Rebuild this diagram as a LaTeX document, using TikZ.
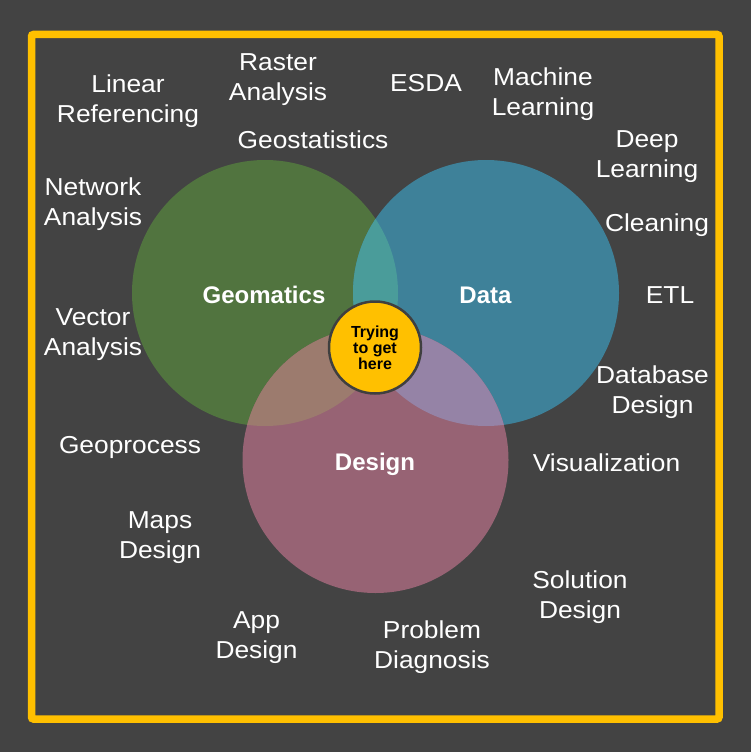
\documentclass[tikz,border=0pt]{standalone}
\usepackage{fontspec}
\setmainfont{Liberation Sans}
\newfontfamily\topicfont{Liberation Sans}[FakeStretch=1.075]
\definecolor{bg}{HTML}{434343}
\definecolor{framecol}{HTML}{FFC000}
\definecolor{geo}{HTML}{51743F}
\definecolor{dat}{HTML}{3E8199}
\definecolor{des}{HTML}{976374}
\definecolor{geodat}{HTML}{4A9C9A}
\definecolor{geodes}{HTML}{9C7B6E}
\definecolor{datdes}{HTML}{9583A6}
\definecolor{hubfill}{HTML}{FFC000}
\definecolor{hubedge}{HTML}{3F3F3F}
\begin{document}
\begin{tikzpicture}[x=1pt,y=-1pt,
  topic/.style={text=white, align=center, anchor=base, inner sep=0pt,
    font=\topicfont\fontsize{24.5}{30}\selectfont},
  setname/.style={text=white, anchor=base, inner sep=0pt,
    font=\fontsize{24}{28}\bfseries\selectfont},
  hubnode/.style={circle, fill=hubfill, draw=hubedge, line width=2.5pt,
    minimum size=92pt, inner sep=0pt, align=center,
    font=\fontsize{16}{16.2}\bfseries\selectfont}]
\useasboundingbox (0,0) rectangle (751,752);
\fill[bg] (0,0) rectangle (751,752);
\draw[framecol, line width=7.5pt, rounded corners=2pt] (31.5,34.5) rectangle (719,719);

% set centres
\coordinate (cg) at (265,293);
\coordinate (cd) at (486,293);
\coordinate (cs) at (375.5,460);

% the three sets
\fill[geo] (cg) circle[radius=133pt];
\fill[dat] (cd) circle[radius=133pt];
\fill[des] (cs) circle[radius=133pt];

% pairwise overlaps
\begin{scope}
  \clip (cg) circle[radius=133pt];
  \fill[geodat] (cd) circle[radius=133pt];
  \fill[geodes] (cs) circle[radius=133pt];
\end{scope}
\begin{scope}
  \clip (cd) circle[radius=133pt];
  \fill[datdes] (cs) circle[radius=133pt];
\end{scope}

% set names
\node[setname] (geomatics) at (264,303) {Geomatics};
\node[setname] (data) at (485.5,303) {Data};
\node[setname] (design) at (375,470) {Design};

% centre
\node[hubnode] (hub) at (375,347.5) {Trying\\to get\\here};

% surrounding topics (base = baseline of the last line)
\node[topic] (linref) at (128,122) {Linear\\Referencing};
\node[topic] (raster) at (278,100) {Raster\\Analysis};
\node[topic] (esda) at (426,91) {ESDA};
\node[topic] (ml) at (543,115) {Machine\\Learning};
\node[topic] (geostat) at (313,148) {Geostatistics};
\node[topic] (dl) at (647,177) {Deep\\Learning};
\node[topic] (network) at (93,225) {Network\\Analysis};
\node[topic] (cleaning) at (657,231) {Cleaning};
\node[topic] (etl) at (670,303) {ETL};
\node[topic] (vector) at (93,355) {Vector\\Analysis};
\node[topic] (dbdesign) at (652.5,413) {Database\\Design};
\node[topic] (geoproc) at (130,453) {Geoprocess};
\node[topic] (vis) at (606.5,471.5) {Visualization};
\node[topic] (maps) at (160,558) {Maps\\Design};
\node[topic] (solution) at (580,618) {Solution\\Design};
\node[topic] (app) at (256.5,658) {App\\Design};
\node[topic] (problem) at (432,668) {Problem\\Diagnosis};
\end{tikzpicture}
\end{document}
